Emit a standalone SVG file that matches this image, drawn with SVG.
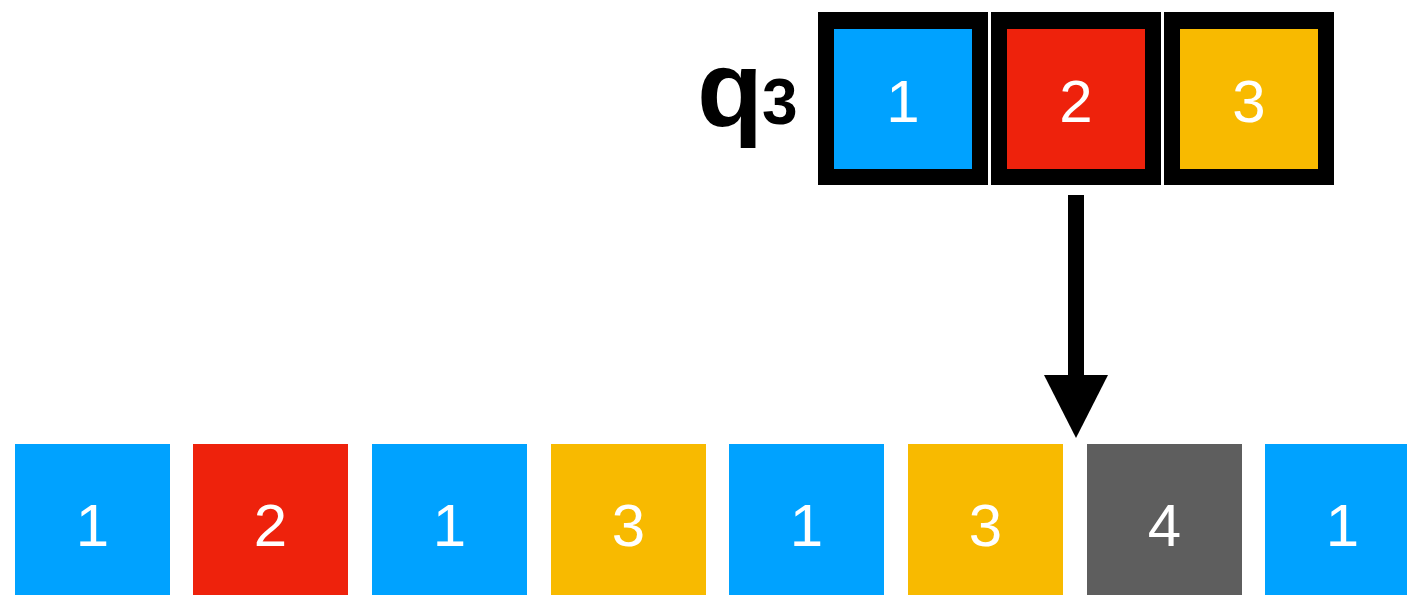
<svg xmlns="http://www.w3.org/2000/svg" width="1407" height="595" viewBox="0 0 1407 595">
<style>
.b{fill:#00A2FF}.r{fill:#EE220C}.y{fill:#F8BA00}.g{fill:#5E5E5E}
.frame{fill:#000}
.num{font-family:"Liberation Sans",Arial,sans-serif;font-size:60px;fill:#fff;text-anchor:middle}
.lbl{font-family:"Liberation Sans",Arial,sans-serif;font-weight:bold;fill:#000}
</style>
<rect width="1407" height="595" fill="#fff"/>
<g id="label-q3">
<text class="lbl" x="697" y="126" font-size="108">q</text>
<text class="lbl" x="762" y="124" font-size="64">3</text>
</g>
<g id="q3-cell1">
<rect class="frame" x="818" y="12" width="170" height="173"/>
<rect class="b" x="834" y="29" width="138" height="140"/>
<text class="num" x="903" y="122">1</text>
</g>
<g id="q3-cell2">
<rect class="frame" x="991" y="12" width="170" height="173"/>
<rect class="r" x="1007" y="29" width="138" height="140"/>
<text class="num" x="1076" y="122">2</text>
</g>
<g id="q3-cell3">
<rect class="frame" x="1164" y="12" width="170" height="173"/>
<rect class="y" x="1180" y="29" width="138" height="140"/>
<text class="num" x="1249" y="122">3</text>
</g>
<g id="connectors">
<rect x="1068" y="195" width="16" height="181" fill="#000"/>
<polygon points="1044,375 1108,375 1076,438" fill="#000"/>
</g>
<g id="s1"><rect class="b" x="15" y="444" width="155" height="151"/><text class="num" x="92.5" y="546">1</text></g>
<g id="s2"><rect class="r" x="193" y="444" width="155" height="151"/><text class="num" x="270.5" y="546">2</text></g>
<g id="s3"><rect class="b" x="372" y="444" width="155" height="151"/><text class="num" x="449.5" y="546">1</text></g>
<g id="s4"><rect class="y" x="551" y="444" width="155" height="151"/><text class="num" x="628.5" y="546">3</text></g>
<g id="s5"><rect class="b" x="729" y="444" width="155" height="151"/><text class="num" x="806.5" y="546">1</text></g>
<g id="s6"><rect class="y" x="908" y="444" width="155" height="151"/><text class="num" x="985.5" y="546">3</text></g>
<g id="s7"><rect class="g" x="1087" y="444" width="155" height="151"/><text class="num" x="1164.5" y="546">4</text></g>
<g id="s8"><rect class="b" x="1265" y="444" width="155" height="151"/><text class="num" x="1342.5" y="546">1</text></g>
</svg>
